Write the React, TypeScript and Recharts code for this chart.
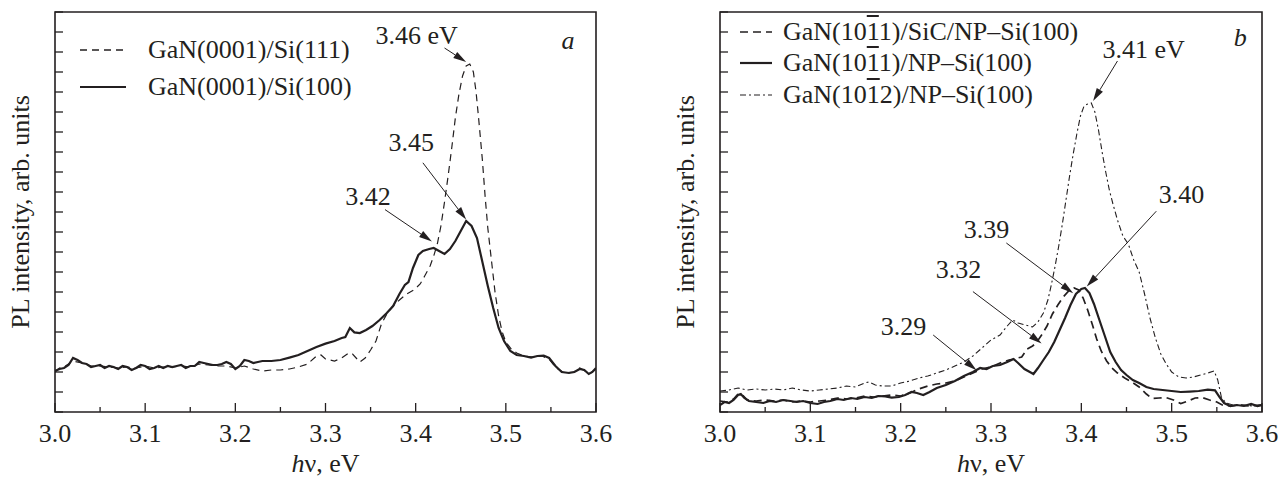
import {
  LineChart,
  Line,
  XAxis,
  YAxis,
  ReferenceArea,
  ReferenceLine,
  ReferenceDot,
  Legend,
} from "recharts";

const INK = "#231f20";
const FONT = "'Liberation Serif', 'Times New Roman', serif";
const FS = 26;

// ---- panel a: GaN(0001) ----
const aSi111E = [
  3.0, 3.005, 3.01, 3.02, 3.03, 3.04, 3.05, 3.06, 3.07, 3.08, 3.09, 3.1, 3.11, 3.12, 3.13, 3.14,
  3.15, 3.16, 3.17, 3.18, 3.19, 3.2, 3.21, 3.22, 3.23, 3.24, 3.25, 3.26, 3.27, 3.28, 3.29, 3.295,
  3.3, 3.31, 3.318, 3.326, 3.33, 3.338, 3.344, 3.35, 3.356, 3.362, 3.368, 3.375, 3.382, 3.39,
  3.398, 3.405, 3.41, 3.416, 3.42, 3.424, 3.428, 3.432, 3.436, 3.44, 3.444, 3.448, 3.452, 3.456,
  3.46, 3.464, 3.467, 3.47, 3.474, 3.477, 3.48, 3.484, 3.488, 3.492, 3.496, 3.5, 3.506, 3.512,
  3.52, 3.53, 3.54, 3.548, 3.556, 3.565, 3.575, 3.582, 3.588, 3.594, 3.6,
];
const aSi111I = [
  2.0, 2.2, 2.25, 2.55, 2.45, 2.3, 2.3, 2.25, 2.2, 2.25, 2.2, 2.3, 2.2, 2.25, 2.25, 2.3,
  2.25, 2.4, 2.35, 2.3, 2.3, 2.2, 2.3, 2.15, 2.05, 2.1, 2.1, 2.15, 2.25, 2.4, 2.8, 2.85,
  2.65, 2.55, 2.7, 2.95, 2.9, 2.5, 2.7, 3.1, 3.55, 4.4, 4.9, 5.3, 5.6, 5.9,
  6.1, 6.4, 6.8, 7.3, 7.8, 8.4, 9.3, 10.5, 11.8, 13.2, 14.7, 15.9, 16.8, 17.3,
  17.4, 17.0, 16.0, 14.6, 12.6, 10.8, 9.2, 7.6, 6.0, 4.8, 4.0, 3.5, 3.15, 2.95,
  2.8, 2.75, 2.8, 2.65, 2.2, 1.95, 2.0, 2.2, 2.05, 1.95, 2.15,
];

const aSi100E = [
  3.0, 3.005, 3.01, 3.015, 3.02, 3.025, 3.03, 3.035, 3.04, 3.045, 3.05, 3.055, 3.06, 3.065,
  3.07, 3.075, 3.08, 3.085, 3.09, 3.095, 3.1, 3.105, 3.11, 3.115, 3.12, 3.125, 3.13, 3.135,
  3.14, 3.145, 3.15, 3.155, 3.16, 3.165, 3.17, 3.175, 3.18, 3.185, 3.19, 3.195, 3.2, 3.205,
  3.21, 3.215, 3.22, 3.225, 3.23, 3.24, 3.25, 3.26, 3.27, 3.28, 3.29, 3.3, 3.31, 3.318, 3.322,
  3.327, 3.332, 3.338, 3.345, 3.352, 3.36, 3.368, 3.375, 3.382, 3.388, 3.392, 3.397, 3.403,
  3.408, 3.415, 3.42, 3.426, 3.432, 3.438, 3.444, 3.45, 3.456, 3.462, 3.468, 3.474, 3.48,
  3.486, 3.492, 3.498, 3.505, 3.512, 3.52, 3.528, 3.535, 3.542, 3.548, 3.555, 3.562, 3.57,
  3.576, 3.582, 3.587, 3.592, 3.596, 3.6,
];
const aSi100I = [
  2.05, 2.15, 2.2, 2.35, 2.7, 2.6, 2.45, 2.4, 2.25, 2.3, 2.35, 2.2, 2.3, 2.25,
  2.15, 2.3, 2.25, 2.1, 2.2, 2.35, 2.3, 2.15, 2.2, 2.3, 2.2, 2.3, 2.25, 2.3,
  2.35, 2.2, 2.3, 2.3, 2.5, 2.45, 2.4, 2.35, 2.35, 2.4, 2.5, 2.4, 2.15, 2.3,
  2.6, 2.55, 2.45, 2.5, 2.55, 2.55, 2.6, 2.72, 2.85, 3.05, 3.25, 3.42, 3.55, 3.7, 3.75,
  4.2, 3.98, 3.95, 4.1, 4.3, 4.6, 4.95, 5.3, 5.9, 6.35, 6.5, 7.2, 7.85,
  8.05, 8.15, 8.2, 8.05, 7.9, 8.15, 8.55, 9.05, 9.55, 9.3, 8.7, 7.5, 6.3,
  5.2, 4.2, 3.55, 3.05, 2.85, 2.8, 2.72, 2.8, 2.82, 2.7, 2.3, 2.0, 1.95,
  2.0, 2.15, 2.1, 1.9, 2.0, 2.2,
];

// ---- panel b: semipolar GaN on NP-Si(100) ----
const bSicE = [
  3.0, 3.008, 3.015, 3.02, 3.025, 3.03, 3.04, 3.05, 3.06, 3.07, 3.08, 3.09, 3.1, 3.11, 3.12,
  3.13, 3.14, 3.15, 3.16, 3.17, 3.18, 3.19, 3.2, 3.21, 3.22, 3.23, 3.24, 3.25, 3.26, 3.27,
  3.28, 3.29, 3.3, 3.31, 3.32, 3.328, 3.334, 3.34, 3.346, 3.35, 3.356, 3.362, 3.368, 3.374,
  3.38, 3.386, 3.392, 3.397, 3.402, 3.407, 3.412, 3.417, 3.422, 3.428, 3.434, 3.44, 3.448,
  3.456, 3.464, 3.472, 3.478, 3.486, 3.494, 3.502, 3.51, 3.518, 3.526, 3.534, 3.542, 3.55,
  3.556, 3.565, 3.575, 3.585, 3.6,
];
const bSicI = [
  0.55, 0.5, 0.65, 0.9, 0.85, 0.6, 0.55, 0.6, 0.55, 0.6, 0.5, 0.55, 0.5, 0.55, 0.6,
  0.7, 0.65, 0.7, 0.8, 0.75, 0.8, 0.85, 0.8, 0.95, 1.15, 1.3, 1.4, 1.45, 1.55, 1.75,
  1.95, 2.15, 2.25, 2.45, 2.6, 2.68, 2.75, 3.15, 3.3, 3.45, 3.85, 4.3, 4.9, 5.35,
  5.75, 6.05, 6.2, 6.1, 5.7, 5.1, 4.4, 3.65, 3.05, 2.55, 2.2, 1.95, 1.7,
  1.5, 1.25, 0.9, 0.68, 0.7, 0.72, 0.6, 0.42, 0.55, 0.7, 0.72, 0.6, 0.5,
  0.35, 0.3, 0.35, 0.3, 0.35,
];

const bNpE = [
  3.0, 3.005, 3.01, 3.015, 3.02, 3.023, 3.027, 3.032, 3.04, 3.048, 3.055, 3.062, 3.07, 3.078,
  3.085, 3.092, 3.1, 3.108, 3.115, 3.122, 3.13, 3.137, 3.145, 3.152, 3.16, 3.168, 3.175, 3.183,
  3.19, 3.198, 3.205, 3.212, 3.218, 3.225, 3.232, 3.24, 3.25, 3.26, 3.27, 3.28, 3.288, 3.295,
  3.302, 3.31, 3.318, 3.325, 3.33, 3.337, 3.343, 3.347, 3.352, 3.358, 3.364, 3.37, 3.376,
  3.382, 3.388, 3.394, 3.4, 3.404, 3.409, 3.414, 3.42, 3.426, 3.432, 3.438, 3.444, 3.45,
  3.457, 3.464, 3.472, 3.48, 3.49, 3.5, 3.51, 3.52, 3.53, 3.54, 3.548, 3.553, 3.558, 3.565,
  3.572, 3.58, 3.588, 3.595, 3.6,
];
const bNpI = [
  0.35, 0.5, 0.45, 0.6, 0.85, 0.9, 0.7, 0.55, 0.5, 0.45, 0.55, 0.5, 0.6, 0.55,
  0.5, 0.55, 0.45, 0.4, 0.5, 0.55, 0.65, 0.6, 0.7, 0.65, 0.75, 0.7, 0.8, 0.78,
  0.72, 0.75, 0.85, 1.0, 0.95, 0.85, 1.0, 1.2, 1.35, 1.55, 1.8, 2.0, 2.2, 2.15,
  2.3, 2.35, 2.5, 2.65, 2.45, 2.15, 2.0, 1.9, 2.2, 2.6, 3.0, 3.5, 4.1,
  4.7, 5.35, 5.9, 6.15, 6.2, 5.95, 5.4, 4.6, 3.8, 3.0, 2.5, 2.1, 1.85,
  1.6, 1.45, 1.25, 1.15, 1.1, 1.05, 1.0, 1.02, 1.05, 1.12, 1.08, 0.75, 0.45, 0.3,
  0.35, 0.3, 0.4, 0.3, 0.35,
];

const bSemiE = [
  3.0, 3.01, 3.02, 3.03, 3.04, 3.05, 3.06, 3.07, 3.08, 3.09, 3.1, 3.11, 3.12, 3.13, 3.14,
  3.15, 3.16, 3.165, 3.172, 3.18, 3.19, 3.2, 3.21, 3.22, 3.23, 3.24, 3.25, 3.26, 3.27, 3.28,
  3.29, 3.3, 3.31, 3.318, 3.324, 3.33, 3.338, 3.346, 3.352, 3.358, 3.363, 3.367, 3.371, 3.375,
  3.379, 3.383, 3.387, 3.391, 3.395, 3.399, 3.403, 3.407, 3.411, 3.415, 3.419, 3.423, 3.427,
  3.431, 3.435, 3.44, 3.446, 3.452, 3.458, 3.464, 3.47, 3.476, 3.482, 3.488, 3.494, 3.5,
  3.508, 3.516, 3.524, 3.532, 3.54, 3.547, 3.551, 3.555, 3.56, 3.568, 3.58, 3.59, 3.6,
];
const bSemiI = [
  1.05, 1.1, 1.2, 1.1, 1.15, 1.1, 1.15, 1.1, 1.2, 1.1, 1.05, 1.1, 1.15, 1.2, 1.3,
  1.25, 1.45, 1.5, 1.35, 1.3, 1.3, 1.45, 1.55, 1.7, 1.8, 1.95, 2.1, 2.3, 2.5, 2.8,
  3.2, 3.6, 3.85, 4.3, 4.6, 4.45, 4.35, 4.25, 4.5, 4.95, 5.6, 6.4, 7.3, 8.3,
  9.4, 10.6, 11.8, 12.9, 13.9, 14.8, 15.3, 15.4, 15.45, 15.0, 14.1, 13.0, 12.0,
  11.1, 10.4, 9.6, 8.8, 8.4, 7.6, 7.0, 5.9, 4.7, 3.7, 2.9, 2.4, 2.0,
  1.75, 1.7, 1.75, 1.85, 1.95, 2.05, 1.6, 0.75, 0.45, 0.35, 0.35, 0.3, 0.35,
];

const xTicks = [
  3.0, 3.05, 3.1, 3.15, 3.2, 3.25, 3.3, 3.35, 3.4, 3.45, 3.5, 3.55, 3.6,
];
const yTicks = [
  0, 1, 2, 3, 4, 5, 6, 7, 8, 9, 10, 11, 12, 13, 14, 15, 16, 17, 18, 19, 20,
];

const zip = (e: number[], v: number[]) => e.map((x, k) => ({ e: x, i: v[k] }));

type Note = { text: string; at: [number, number]; from: [number, number]; to: [number, number] };

const notesA: Note[] = [
  { text: "3.46 eV", at: [3.401, 18.85], from: [3.432, 18.2], to: [3.456, 17.5] },
  { text: "3.45", at: [3.395, 13.47], from: [3.408, 12.46], to: [3.456, 9.62] },
  { text: "3.42", at: [3.347, 10.79], from: [3.366, 10.12], to: [3.418, 8.53] },
];
const notesB: Note[] = [
  { text: "3.41 eV", at: [3.469, 18.15], from: [3.44, 17.55], to: [3.413, 15.55] },
  { text: "3.40", at: [3.511, 10.87], from: [3.483, 10.04], to: [3.406, 6.27] },
  { text: "3.39", at: [3.295, 9.12], from: [3.317, 8.45], to: [3.391, 5.94] },
  { text: "3.32", at: [3.264, 7.11], from: [3.28, 6.02], to: [3.356, 3.43] },
  { text: "3.29", at: [3.203, 4.26], from: [3.236, 3.85], to: [3.284, 2.09] },
];

type Item = { name: (string | { bar: string })[]; dash?: string; w: number };

const itemsA: Item[] = [
  { name: ["GaN(0001)/Si(111)"], dash: "7 5", w: 1.3 },
  { name: ["GaN(0001)/Si(100)"], w: 2.2 },
];
const itemsB: Item[] = [
  { name: ["GaN(10", { bar: "1" }, "1)/SiC/NP–Si(100)"], dash: "8 5", w: 1.7 },
  { name: ["GaN(10", { bar: "1" }, "1)/NP–Si(100)"], w: 2.2 },
  { name: ["GaN(10", { bar: "1" }, "2)/NP–Si(100)"], dash: "6 3 2 3", w: 1.2 },
];

function XTick(props: any) {
  const { x, y, payload } = props;
  const v = payload.value as number;
  const major = Math.abs(v * 10 - Math.round(v * 10)) < 1e-6;
  return (
    <g>
      <line x1={x} x2={x} y1={y} y2={y - (major ? 9 : 5)} stroke={INK} strokeWidth={1.3} />
      {major && (
        <text x={x} y={y + 30} textAnchor="middle" fontSize={FS} fontFamily={FONT} fill={INK}>
          {v.toFixed(1)}
        </text>
      )}
    </g>
  );
}

function YTick(props: any) {
  const { x, y } = props;
  return <line x1={x} x2={x + 8} y1={y} y2={y} stroke={INK} strokeWidth={1.3} />;
}

function arrow(props: any) {
  const { x1, y1, x2, y2 } = props;
  const ang = Math.atan2(y2 - y1, x2 - x1);
  const L = 13;
  const W = 3.6;
  const bx = x2 - L * Math.cos(ang);
  const by = y2 - L * Math.sin(ang);
  const px = -Math.sin(ang) * W;
  const py = Math.cos(ang) * W;
  return (
    <g>
      <line x1={x1} y1={y1} x2={bx} y2={by} stroke={INK} strokeWidth={1} />
      <polygon
        points={`${x2},${y2} ${bx + px},${by + py} ${bx - px},${by - py}`}
        fill={INK}
      />
    </g>
  );
}

const textShape = (txt: string, italic = false) => (props: any) => (
  <text
    x={props.cx}
    y={props.cy}
    textAnchor="middle"
    dominantBaseline="central"
    fontSize={FS}
    fontStyle={italic ? "italic" : "normal"}
    fontFamily={FONT}
    fill={INK}
  >
    {txt}
  </text>
);

function LegendBox({ items, sampleW, gap, rowH }: { items: Item[]; sampleW: number; gap: number; rowH: number }) {
  return (
    <div style={{ fontFamily: FONT, fontSize: FS, color: INK }}>
      {items.map((it, k) => (
        <div key={k} style={{ display: "flex", alignItems: "center", height: rowH, whiteSpace: "nowrap" }}>
          <svg width={sampleW} height={10} style={{ display: "block" }}>
            <line x1={0} x2={sampleW} y1={5} y2={5} stroke={INK} strokeWidth={it.w} strokeDasharray={it.dash} />
          </svg>
          <span style={{ marginLeft: gap, lineHeight: 1 }}>
            {it.name.map((p, j) =>
              typeof p === "string" ? (
                <span key={j}>{p}</span>
              ) : (
                <span key={j} style={{ textDecoration: "overline" }}>{p.bar}</span>
              )
            )}
          </span>
        </div>
      ))}
    </div>
  );
}

function yTitle(props: any) {
  const vb = props.viewBox || {};
  const x = (vb.x ?? 0) + (vb.width ?? 0) - 35;
  const y = (vb.y ?? 12) + (vb.height ?? 400) / 2;
  return (
    <text
      x={x}
      y={y}
      transform={`rotate(-90 ${x} ${y})`}
      textAnchor="middle"
      dominantBaseline="central"
      fontSize={FS}
      fontFamily={FONT}
      fill={INK}
    >
      PL intensity, arb. units
    </text>
  );
}

function xTitle(props: any) {
  const vb = props.viewBox || {};
  const x = (vb.x ?? 0) + (vb.width ?? 0) / 2;
  const y = (vb.y ?? 412) + 60;
  return (
    <text x={x} y={y} textAnchor="middle" fontSize={FS} fontFamily={FONT} fill={INK}>
      <tspan fontStyle="italic">h</tspan>ν, eV
    </text>
  );
}

type Series = { data: { e: number; i: number }[]; dash?: string; w: number };

function Panel({
  width,
  margin,
  series,
  notes,
  tag,
  tagAt,
  legend,
  legendLeft,
}: {
  width: number;
  margin: { top: number; right: number; bottom: number; left: number };
  series: Series[];
  notes: Note[];
  tag: string;
  tagAt: [number, number];
  legend: React.ReactNode;
  legendLeft: number;
}) {
  return (
    <LineChart width={width} height={482} margin={margin}>
      <XAxis
        dataKey="e"
        type="number"
        domain={[3, 3.6]}
        ticks={xTicks}
        interval={0}
        allowDataOverflow
        axisLine={false}
        tickLine={false}
        tickSize={0}
        tickMargin={0}
        height={70}
        tick={<XTick />}
        label={xTitle}
      />
      <YAxis
        type="number"
        domain={[0, 20]}
        ticks={yTicks}
        interval={0}
        allowDataOverflow
        axisLine={false}
        tickLine={false}
        tickSize={0}
        tickMargin={0}
        width={40}
        tick={<YTick />}
        label={yTitle}
      />
      <ReferenceArea x1={3} x2={3.6} y1={0} y2={20} fill="none" stroke={INK} strokeWidth={1.6} />
      {series.map((s, k) => (
        <Line
          key={k}
          data={s.data}
          dataKey="i"
          type="linear"
          stroke={INK}
          strokeWidth={s.w}
          strokeDasharray={s.dash}
          dot={false}
          activeDot={false}
          isAnimationActive={false}
        />
      ))}
      {notes.map((n, k) => (
        <ReferenceLine
          key={`l${k}`}
          segment={[
            { x: n.from[0], y: n.from[1] },
            { x: n.to[0], y: n.to[1] },
          ]}
          shape={arrow}
          ifOverflow="visible"
        />
      ))}
      {notes.map((n, k) => (
        <ReferenceDot key={`t${k}`} x={n.at[0]} y={n.at[1]} r={0} shape={textShape(n.text)} ifOverflow="visible" />
      ))}
      <ReferenceDot x={tagAt[0]} y={tagAt[1]} r={0} shape={textShape(tag, true)} ifOverflow="visible" />
      <Legend
        layout="vertical"
        align="center"
        verticalAlign="middle"
        wrapperStyle={{ left: legendLeft, top: 0, width: "auto", height: "auto" }}
        content={() => legend}
      />
    </LineChart>
  );
}

export default function App() {
  return (
    <div style={{ position: "absolute", left: 0, top: 0, width: 1287, height: 482, background: "#fff" }}>
      <div style={{ position: "absolute", left: 0, top: 0 }}>
        <Panel
          width={640}
          margin={{ top: 12, right: 44, bottom: 0, left: 15 }}
          series={[
            { data: zip(aSi111E, aSi111I), dash: "7 5", w: 1.2 },
            { data: zip(aSi100E, aSi100I), w: 2.2 },
          ]}
          notes={notesA}
          tag="a"
          tagAt={[3.569, 18.6]}
          legendLeft={80}
          legend={
            <div style={{ paddingTop: 31 }}>
              <LegendBox items={itemsA} sampleW={46} gap={22} rowH={37} />
            </div>
          }
        />
      </div>
      <div style={{ position: "absolute", left: 640, top: 0 }}>
        <Panel
          width={647}
          margin={{ top: 12, right: 25, bottom: 0, left: 40 }}
          series={[
            { data: zip(bSemiE, bSemiI), dash: "6 3 2 3", w: 1.1 },
            { data: zip(bSicE, bSicI), dash: "8 5", w: 1.7 },
            { data: zip(bNpE, bNpI), w: 2.2 },
          ]}
          notes={notesB}
          tag="b"
          tagAt={[3.576, 18.75]}
          legendLeft={100}
          legend={
            <div style={{ paddingTop: 16 }}>
              <LegendBox items={itemsB} sampleW={32} gap={11} rowH={31.5} />
            </div>
          }
        />
      </div>
    </div>
  );
}
